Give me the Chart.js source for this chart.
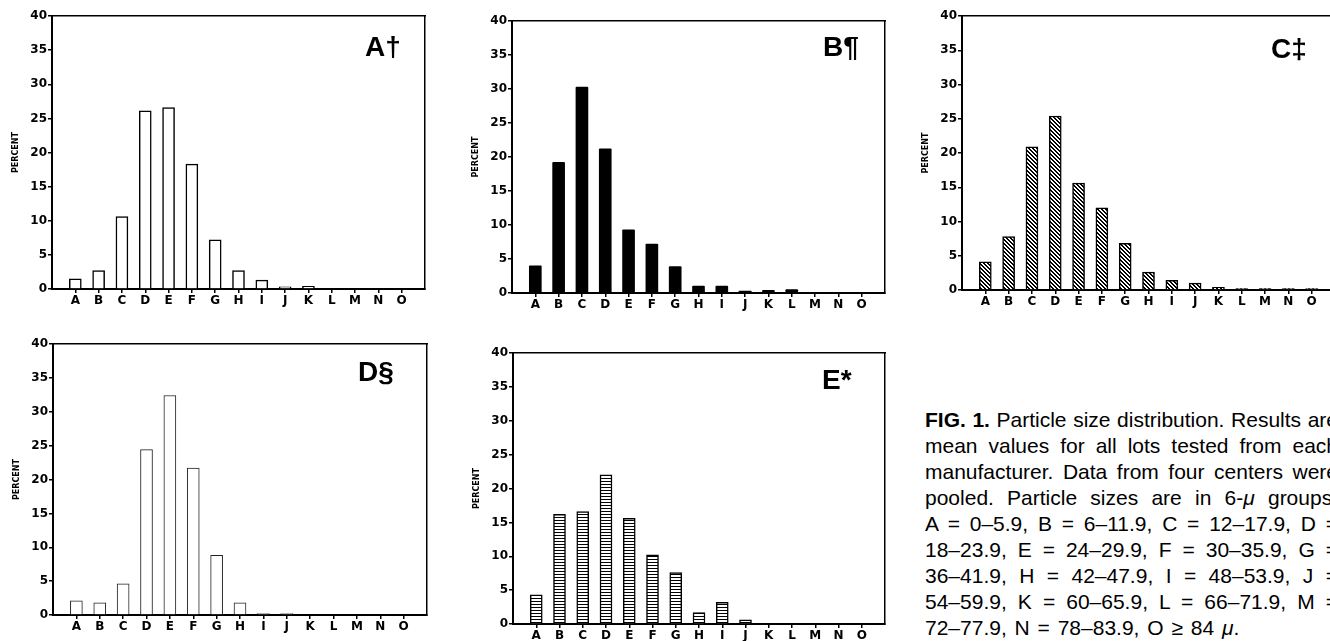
<!DOCTYPE html>
<html><head><meta charset="utf-8">
<script src="https://cdn.jsdelivr.net/npm/chart.js@4"></script>
<style>
html,body{margin:0;padding:0;background:#fff;}
body{width:1330px;height:641px;overflow:hidden;position:relative;font-family:"Liberation Sans",Arial,sans-serif;}
.p{position:absolute;}
.p canvas{display:block;}
.ttl{position:absolute;font:bold 28px "Liberation Sans",Arial,sans-serif;line-height:28px;color:#000;white-space:nowrap;}
.cap{position:absolute;left:925px;top:407px;width:413px;font-size:21px;line-height:26px;color:#000;}
.cap div{text-align:justify;text-align-last:justify;}
.cap div.last{text-align:left;text-align-last:left;word-spacing:2px;}
</style>
</head><body>

<div class="p" id="pA"><canvas id="cA"></canvas></div>
<div class="p" id="pB"><canvas id="cB"></canvas></div>
<div class="p" id="pC"><canvas id="cC"></canvas></div>
<div class="p" id="pD"><canvas id="cD"></canvas></div>
<div class="p" id="pE"><canvas id="cE"></canvas></div>

<div class="ttl" style="left:365px;top:33px;">A†</div>
<div class="ttl" style="left:823px;top:33px;">B¶</div>
<div class="ttl" style="left:1271px;top:35px;">C‡</div>
<div class="ttl" style="left:358px;top:358px;">D§</div>
<div class="ttl" style="left:822px;top:366px;">E*</div>

<div class="cap">
<div><b>FIG. 1.</b> Particle size distribution. Results are</div>
<div>mean values for all lots tested from each</div>
<div>manufacturer. Data from four centers were</div>
<div>pooled. Particle sizes are in 6-<i>μ</i> groups.</div>
<div>A = 0–5.9, B = 6–11.9, C = 12–17.9, D =</div>
<div>18–23.9, E = 24–29.9, F = 30–35.9, G =</div>
<div>36–41.9, H = 42–47.9, I = 48–53.9, J =</div>
<div>54–59.9, K = 60–65.9, L = 66–71.9, M =</div>
<div class="last">72–77.9, N = 78–83.9, O ≥ 84 <i>μ</i>.</div>
</div>

<script>
// ---- data ----
const categories = ['A','B','C','D','E','F','G','H','I','J','K','L','M','N','O'];
const yTicks = [0,5,10,15,20,25,30,35,40];
const yAxisTitle = 'PERCENT';
const valuesA = [1.5, 2.7, 10.6, 26.1, 26.6, 18.3, 7.2, 2.7, 1.3, 0.3, 0.4, 0, 0, 0, 0];
const valuesB = [4.0, 19.2, 30.3, 21.2, 9.3, 7.2, 3.9, 1.0, 1.0, 0.3, 0.4, 0.5, 0, 0, 0];
const valuesC = [4.1, 7.8, 20.9, 25.4, 15.6, 12.0, 6.8, 2.6, 1.4, 1.0, 0.4, 0.2, 0.2, 0.2, 0.2];
const valuesD = [2.1, 1.8, 4.6, 24.4, 32.4, 21.7, 8.8, 1.8, 0.2, 0.2, 0, 0, 0, 0, 0];
const valuesE = [4.3, 16.2, 16.6, 22.0, 15.6, 10.2, 7.6, 1.7, 3.2, 0.6, 0, 0, 0, 0, 0];

// ---- styles ----
function makePattern(kind){
  const c = document.createElement('canvas');
  const s = kind === 'diag' ? 4 : 3;
  c.width = s; c.height = s;
  const x = c.getContext('2d');
  x.fillStyle = '#fff'; x.fillRect(0,0,s,s);
  x.fillStyle = '#000';
  if (kind === 'diag') {
    for (let i = 0; i < s; i++) { x.fillRect(i, i, 1, 1); x.fillRect((i+1)%s, i, 1, 1); }
  } else {
    x.fillRect(0, 0, s, 1);
  }
  return x.createPattern(c, 'repeat');
}

const YW = 52, XH = 22, PT = 10, PR = 10;
const tickFont = {family:'"DejaVu Sans", sans-serif', size:12, weight:'bold'};
const xFont = {family:'"DejaVu Sans", sans-serif', size:12, weight:'bold'};

function panel(id, axisX, top, right, bottom, values, style){
  const div = document.getElementById('p'+id);
  const w = YW + (right - axisX) + PR;
  const h = PT + (bottom - top) + XH;
  div.style.left = (axisX - YW) + 'px';
  div.style.top = (top - PT) + 'px';
  const cv = document.getElementById('c'+id);
  cv.width = w; cv.height = h;
  cv.style.width = w + 'px'; cv.style.height = h + 'px';
  const labels = [''].concat(categories, ['']);
  const data = [null].concat(values, [null]);
  new Chart(cv, {
    type:'bar',
    data:{ labels, datasets:[{ data,
      backgroundColor: style.bg, borderColor: style.border, borderWidth: style.bw,
      barThickness: 12, borderSkipped: 'bottom', borderRadius: style.radius || 0 }]},
    options:{
      responsive:false, animation:false, devicePixelRatio:1,
      layout:{padding:{top:PT, right:PR, left:0, bottom:0}},
      plugins:{legend:{display:false}, tooltip:{enabled:false}},
      scales:{
        x:{ type:'category', offset:false,
            grid:{offset:false, drawOnChartArea:false, drawTicks:true, tickLength:4, lineWidth:1.5,
                  color: c => (c.tick && c.tick.label === '') ? 'rgba(0,0,0,0)' : '#000'},
            border:{display:true, color:'#000', width:2},
            ticks:{autoSkip:false, maxRotation:0, minRotation:0, padding:1, color:'#000', font:xFont},
            afterFit(s){ s.height = XH; } },
        y:{ min:0, max:40,
            afterBuildTicks(s){ s.ticks = yTicks.map(v => ({value:v})); },
            grid:{drawOnChartArea:false, drawTicks:true, tickLength:4, lineWidth:1.5, color:'#000'},
            border:{display:true, color:'#000', width:2},
            ticks:{padding:1, color:'#000', font:tickFont},
            title:{display:true, text:yAxisTitle, color:'#000', font:{family:'"DejaVu Sans", sans-serif', size:8, weight:'bold'}, padding:{top:11, bottom:0}},
            afterFit(s){ s.width = YW; } },
        x2:{ type:'category', position:'top', offset:false,
             grid:{display:false}, ticks:{display:false},
             border:{display:true, color:'#000', width:1.5},
             afterFit(s){ s.height = 0; } },
        y2:{ position:'right', min:0, max:40,
             grid:{display:false}, ticks:{display:false},
             border:{display:true, color:'#000', width:1.5},
             afterFit(s){ s.width = 0; } }
      }
    }
  });
}

const diag = makePattern('diag');
const horiz = makePattern('horiz');

panel('A', 52, 16, 425, 289, valuesA, {bg:'#fff', border:'#000', bw:1.5});
panel('B', 512, 21, 885, 293, valuesB, {bg:'#000', border:'#000', bw:0, radius:1});
panel('C', 962, 16, 1335, 290, valuesC, {bg:diag, border:'#000', bw:1.5});
panel('D', 53, 344, 427, 615, valuesD, {bg:'#fff', border:'#222', bw:1});
panel('E', 513, 353, 885, 624, valuesE, {bg:horiz, border:'#000', bw:1.5});
</script>
</body></html>
